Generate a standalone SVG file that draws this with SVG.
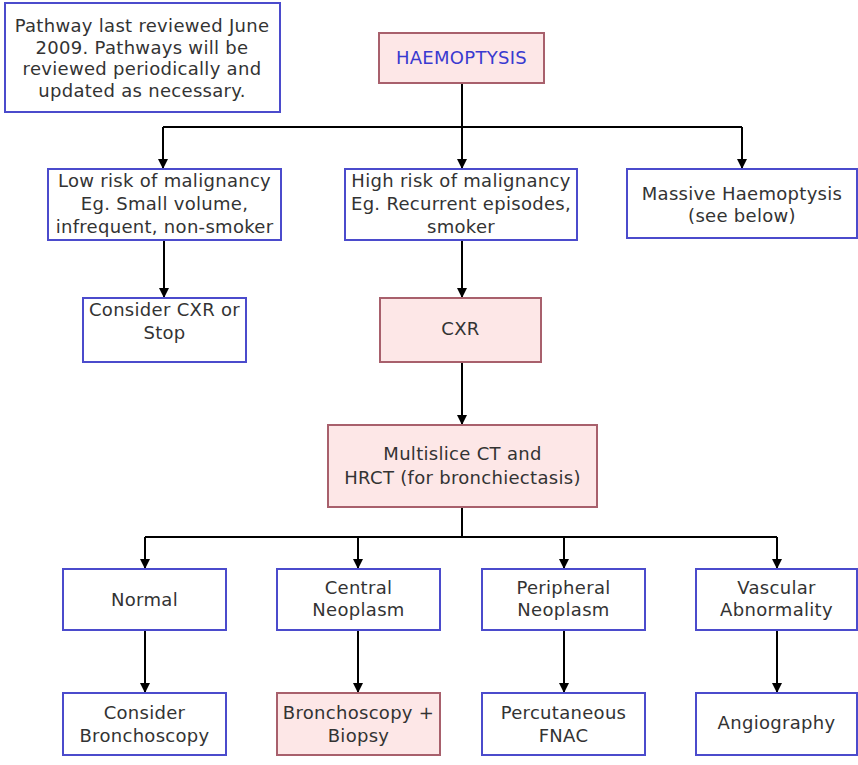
<svg xmlns="http://www.w3.org/2000/svg" width="858" height="765" viewBox="0 0 858 765">
<defs>
<marker id="ah" viewBox="0 0 10 10" refX="10" refY="5" markerWidth="10" markerHeight="10" markerUnits="userSpaceOnUse" orient="auto">
<path d="M0,0 L10,5 L0,10 z" fill="#000"/>
</marker>
<style>
.b{fill:#fff;stroke:#4b4bcc;stroke-width:2}
.p{fill:#fde7e7;stroke:#a8606c;stroke-width:2}
text{font-family:"DejaVu Sans",Verdana,sans-serif;font-size:18px;letter-spacing:0.3px;fill:#333;text-anchor:middle}
.t{fill:#3a3ad0}
.c{stroke:#000;stroke-width:2;fill:none}
.a{stroke:#000;stroke-width:2;fill:none;marker-end:url(#ah)}
</style>
</defs>
<rect width="858" height="765" fill="#fff"/>
<g id="connectors">
<path class="c" d="M462,83 V127 M163,127 H742"/>
<path class="a" d="M163,127 V169"/>
<path class="a" d="M462,127 V169"/>
<path class="a" d="M742,127 V169"/>
<path class="a" d="M164,240 V298"/>
<path class="a" d="M462,240 V298"/>
<path class="a" d="M462,362 V425"/>
<path class="c" d="M462,507 V537 M145,537 H777"/>
<path class="a" d="M145,537 V569"/>
<path class="a" d="M358,537 V569"/>
<path class="a" d="M564,537 V569"/>
<path class="a" d="M777,537 V569"/>
<path class="a" d="M145,630 V693"/>
<path class="a" d="M358,630 V693"/>
<path class="a" d="M564,630 V693"/>
<path class="a" d="M777,630 V693"/>
</g>
<g id="note">
<rect class="b" x="5" y="3" width="275" height="109"/>
<text x="142" y="32">Pathway last reviewed June</text>
<text x="142" y="54">2009. Pathways will be</text>
<text x="142" y="75">reviewed periodically and</text>
<text x="142" y="97">updated as necessary.</text>
</g>
<g id="haemoptysis">
<rect class="p" x="379" y="33" width="165" height="50"/>
<text class="t" x="461.5" y="64">HAEMOPTYSIS</text>
</g>
<g id="low-risk">
<rect class="b" x="48" y="169" width="233" height="71"/>
<text x="164.5" y="187">Low risk of malignancy</text>
<text x="164.5" y="210">Eg. Small volume,</text>
<text x="164.5" y="233">infrequent, non-smoker</text>
</g>
<g id="high-risk">
<rect class="b" x="345" y="169" width="232" height="71"/>
<text x="461" y="187">High risk of malignancy</text>
<text x="461" y="210">Eg. Recurrent episodes,</text>
<text x="461" y="233">smoker</text>
</g>
<g id="massive">
<rect class="b" x="627" y="169" width="230" height="69"/>
<text x="742" y="200">Massive Haemoptysis</text>
<text x="742" y="222">(see below)</text>
</g>
<g id="consider-cxr">
<rect class="b" x="83" y="298" width="163" height="64"/>
<text x="164.5" y="316">Consider CXR or</text>
<text x="164.5" y="339">Stop</text>
</g>
<g id="cxr">
<rect class="p" x="380" y="298" width="161" height="64"/>
<text x="460.5" y="335">CXR</text>
</g>
<g id="ct">
<rect class="p" x="328" y="425" width="269" height="82"/>
<text x="462.5" y="460">Multislice CT and</text>
<text x="462.5" y="484">HRCT (for bronchiectasis)</text>
</g>
<g id="normal">
<rect class="b" x="63" y="569" width="163" height="61"/>
<text x="144.5" y="606">Normal</text>
</g>
<g id="central">
<rect class="b" x="277" y="569" width="163" height="61"/>
<text x="358.5" y="594">Central</text>
<text x="358.5" y="616">Neoplasm</text>
</g>
<g id="peripheral">
<rect class="b" x="482" y="569" width="163" height="61"/>
<text x="563.5" y="594">Peripheral</text>
<text x="563.5" y="616">Neoplasm</text>
</g>
<g id="vascular">
<rect class="b" x="696" y="569" width="161" height="61"/>
<text x="776.5" y="594">Vascular</text>
<text x="776.5" y="616">Abnormality</text>
</g>
<g id="consider-bronch">
<rect class="b" x="63" y="693" width="163" height="62"/>
<text x="144.5" y="719">Consider</text>
<text x="144.5" y="742">Bronchoscopy</text>
</g>
<g id="bronch-biopsy">
<rect class="p" x="277" y="693" width="163" height="62"/>
<text x="358.5" y="719">Bronchoscopy +</text>
<text x="358.5" y="742">Biopsy</text>
</g>
<g id="fnac">
<rect class="b" x="482" y="693" width="163" height="62"/>
<text x="563.5" y="719">Percutaneous</text>
<text x="563.5" y="742">FNAC</text>
</g>
<g id="angio">
<rect class="b" x="696" y="693" width="161" height="62"/>
<text x="776.5" y="729">Angiography</text>
</g>
</svg>
